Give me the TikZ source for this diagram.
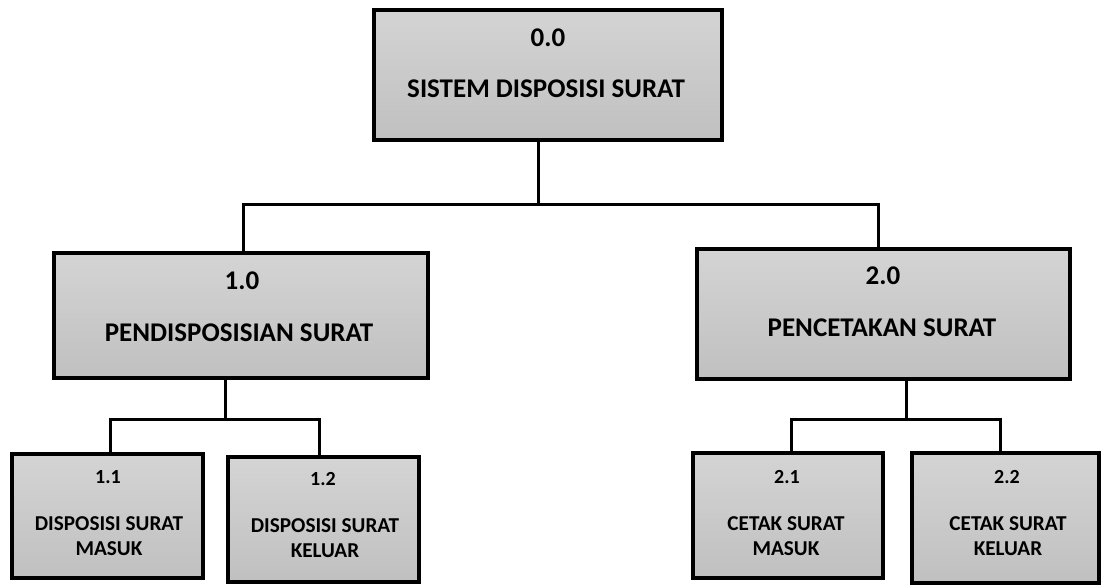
\documentclass[tikz,border=0pt]{standalone}
\usepackage{fontspec}
\setmainfont{Carlito}
\usetikzlibrary{calc}
\definecolor{boxtop}{HTML}{D4D4D4}
\definecolor{boxbot}{HTML}{C0C0C0}
\tikzset{
  box/.style={draw=black, line width=3.5pt, top color=boxtop, bottom color=boxbot, inner sep=0pt},
  wire/.style={draw=black, line width=3pt},
  bignum/.style={anchor=base, inner sep=0pt, font=\bfseries\fontsize{27}{30}\selectfont},
  bigtitle/.style={anchor=base, inner sep=0pt, font=\bfseries\fontsize{27}{30}\selectfont},
  smallnum/.style={anchor=base, inner sep=0pt, font=\bfseries\fontsize{20}{23}\selectfont},
  smalltitle/.style={anchor=base, inner sep=0pt, align=center, font=\bfseries\fontsize{21.2}{25}\selectfont},
}
\begin{document}
\begin{tikzpicture}[x=1pt,y=-1pt]
\useasboundingbox (0,0) rectangle (1101,585);
% boxes
\node[box, minimum width=348pt, minimum height=130pt] (top) at (548,75) {};
\node[box, minimum width=374pt, minimum height=125pt] (b1) at (241,315.5) {};
\node[box, minimum width=373pt, minimum height=130pt] (b2) at (883.5,314) {};
\node[box, minimum width=191pt, minimum height=124pt] (b11) at (107.5,516) {};
\node[box, minimum width=191pt, minimum height=125pt] (b12) at (323.5,519.5) {};
\node[box, minimum width=190pt, minimum height=125pt] (b21) at (788,515.5) {};
\node[box, minimum width=187pt, minimum height=130pt] (b22) at (1005.5,518) {};
% texts
\node[bignum] (t0n) at (548,47) {0.0};
\node[bigtitle] (t0t) at (546,98) {SISTEM DISPOSISI SURAT};
\node[bignum] (t1n) at (242,290) {1.0};
\node[bigtitle] (t1t) at (239,342) {PENDISPOSISIAN SURAT};
\node[bignum] (t2n) at (883,285) {2.0};
\node[bigtitle] (t2t) at (882,337) {PENCETAKAN SURAT};
\node[smallnum] (t11n) at (108,483) {1.1};
\node[smalltitle] (t11t) at (109,555) {DISPOSISI SURAT\\MASUK};
\node[smallnum] (t12n) at (323,485) {1.2};
\node[smalltitle] (t12t) at (325,557) {DISPOSISI SURAT\\KELUAR};
\node[smallnum] (t21n) at (787,483) {2.1};
\node[smalltitle] (t21t) at (786,555) {CETAK SURAT\\MASUK};
\node[smallnum] (t22n) at (1007,483) {2.2};
\node[smalltitle] (t22t) at (1008,555) {CETAK SURAT\\KELUAR};
% connectors
\coordinate (j0) at (538,205);
\coordinate (j1) at (225,419);
\coordinate (j2) at (906,419);
\draw[wire] (top.south -| j0) -- (j0);
\draw[wire] ($(b1.north)+(2,0)$) |- (j0) -| (b2.north -| 878,0);
\draw[wire] (b1.south -| j1) -- (j1);
\draw[wire] ($(b11.north)+(3,0)$) |- (j1) -| ($(b12.north)+(-4,0)$);
\draw[wire] (b2.south -| j2) -- (j2);
\draw[wire] ($(b21.north)+(3,0)$) |- (j2) -| ($(b22.north)+(-5,0)$);
\end{tikzpicture}
\end{document}
